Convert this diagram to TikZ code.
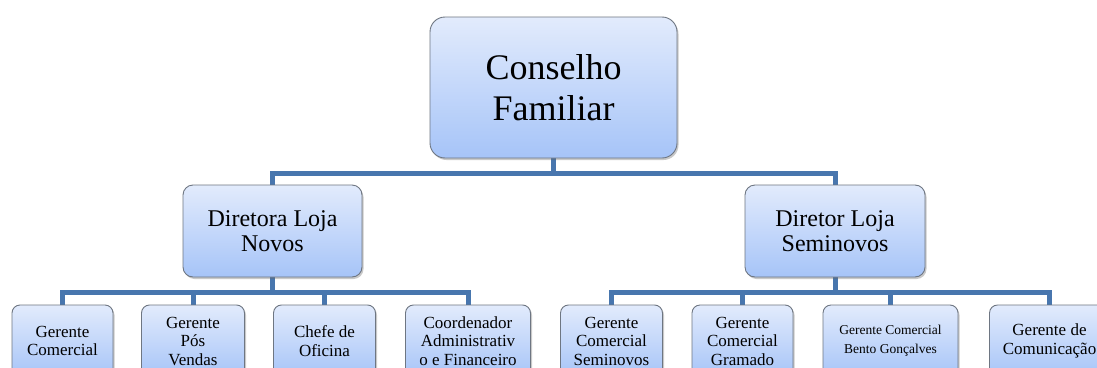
\documentclass[tikz,border=0pt]{standalone}
\usepackage{fontspec}
\setmainfont{Liberation Serif}
\usetikzlibrary{shadows,backgrounds}
\definecolor{conn}{RGB}{72,118,174}
\definecolor{boxtop}{RGB}{226,235,252}
\definecolor{boxbot}{RGB}{166,196,248}
\definecolor{boxline}{RGB}{110,118,130}
\tikzset{
  orgbox/.style={draw=boxline, line width=0.9pt, top color=boxtop, bottom color=boxbot,
    align=center, inner sep=2pt, text=black,
    drop shadow={shadow xshift=1.5pt, shadow yshift=-2pt, opacity=0.35, fill=black!60}},
  topbox/.style={orgbox, rounded corners=15pt, minimum width=247pt, minimum height=141pt,
    font=\fontsize{36}{41}\selectfont},
  midbox/.style={orgbox, rounded corners=10pt, minimum width=179pt, minimum height=92pt,
    font=\fontsize{24}{25}\selectfont},
  lowbox/.style={orgbox, rounded corners=8pt, minimum height=72pt,
    font=\fontsize{17}{18.5}\selectfont},
  link/.style={draw=conn, line width=5pt}
}
\begin{document}
\begin{tikzpicture}[x=1pt,y=-1pt]
\clip (0,0) rectangle (1097,367);
\coordinate (b1) at (0,173);
\coordinate (b2) at (0,292);
\node[topbox] (top) at (553.5,87.5) {Conselho\\Familiar};
\node[midbox] (dl) at (272.5,231) {Diretora Loja\\Novos};
\node[midbox, minimum width=180pt] (dr) at (835,231) {Diretor Loja\\Seminovos};
\node[lowbox, minimum width=101pt] (l1) at (62.5,341) {Gerente\\Comercial};
\node[lowbox, minimum width=103pt] (l2) at (193,341) {Gerente\\Pós\\Vendas};
\node[lowbox, minimum width=102pt] (l3) at (324.5,341) {Chefe de\\Oficina};
\node[lowbox, minimum width=125pt] (l4) at (468,341) {Coordenador\\Administrativ\\o e Financeiro};
\node[lowbox, minimum width=102pt] (r1) at (611.5,341) {Gerente\\Comercial\\Seminovos};
\node[lowbox, minimum width=101pt] (r2) at (742.5,341) {Gerente\\Comercial\\Gramado};
\node[lowbox, minimum width=135pt, font=\fontsize{13.5}{19}\selectfont] (r3) at (890.5,341) {Gerente Comercial\\Bento Gonçalves};
\node[lowbox, minimum width=120pt] (r4) at (1049.5,341) {Gerente de\\Comunicação};
\begin{pgfonlayer}{background}
\fill[white] (0,0) rectangle (1097,367);
\draw[link] (top.south) -- (top.south |- b1) -| (dl.north);
\draw[link] (top.south |- b1) -| (dr.north);
\draw[link] (dl.south) -- (dl.south |- b2) -| (l1.north);
\draw[link] (dl.south |- b2) -| (l2.north);
\draw[link] (dl.south |- b2) -| (l3.north);
\draw[link] (dl.south |- b2) -| (l4.north);
\draw[link] (dr.south) -- (dr.south |- b2) -| (r1.north);
\draw[link] (dr.south |- b2) -| (r2.north);
\draw[link] (dr.south |- b2) -| (r3.north);
\draw[link] (dr.south |- b2) -| (r4.north);
\end{pgfonlayer}
\end{tikzpicture}
\end{document}
